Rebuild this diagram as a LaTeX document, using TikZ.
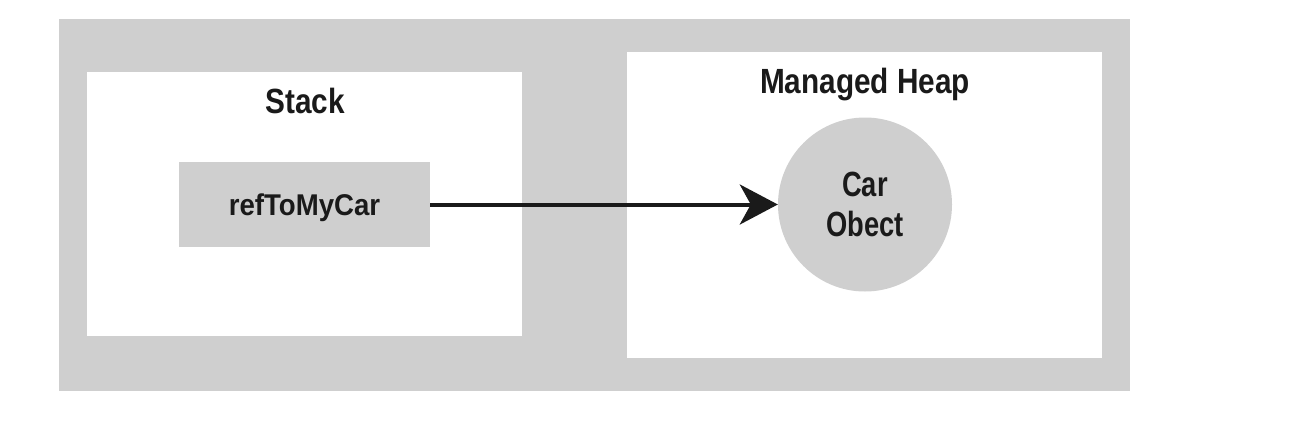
\documentclass[tikz,border=0pt]{standalone}
\usepackage{fontspec}
\setmainfont{Liberation Sans}
\newfontfamily\titlefont{Liberation Sans}[FakeStretch=0.85]
\newfontfamily\reffont{Liberation Sans}[FakeStretch=0.92]
\newfontfamily\objfont{Liberation Sans}[FakeStretch=0.78]
\usetikzlibrary{arrows.meta}
\definecolor{panelgray}{HTML}{CFCFCF}
\definecolor{ink}{HTML}{1A1A1A}
\begin{document}
\begin{tikzpicture}[x=1pt,y=-1pt,
  panel/.style={fill=white,draw=none},
  title/.style={font=\titlefont\fontsize{35}{40}\selectfont\bfseries,text=ink,anchor=base,inner sep=0pt},
  ref/.style={fill=panelgray,draw=none,minimum width=251pt,minimum height=85pt,inner sep=0pt,
    font=\reffont\fontsize{30}{36}\selectfont\bfseries,text=ink,text depth=0pt},
  obj/.style={circle,fill=panelgray,draw=none,minimum size=174pt,inner sep=0pt,align=center,
    font=\objfont\fontsize{35}{40}\selectfont\bfseries,text=ink},
  link/.style={line width=4pt,draw=ink,-{Stealth[length=38pt,width=40pt,inset=11pt]}}]
\useasboundingbox (0,0) rectangle (1308,434);
\fill[white] (0,0) rectangle (1308,434);
\fill[panelgray] (59,19) rectangle (1130,391);
\fill[panel] (87,72) rectangle (522,336);
\fill[panel] (627,52) rectangle (1102,358);
\node[title] (stacktitle) at (305,113) {Stack};
\node[title] (heaptitle) at (865,93) {Managed Heap};
\node[ref] (refnode) at (304.5,204.5) {refToMyCar};
\node[obj] (carobj) at (865,204.5) {Car\\Obect};
\draw[link] (refnode) -- (carobj);
\end{tikzpicture}
\end{document}
